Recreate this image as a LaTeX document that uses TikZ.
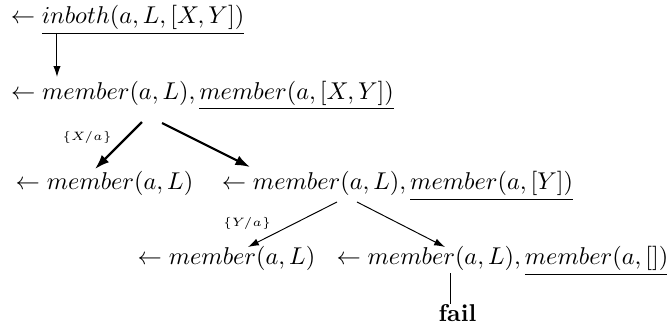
\documentclass[tikz,border=0pt]{standalone}
\usepackage{amsmath}
\usetikzlibrary{arrows.meta}
\newcommand{\sel}[1]{\underline{#1}}

\begin{document}
\begin{tikzpicture}[
  x=1cm,
  y=1cm,
  every node/.style={font=\normalsize},
  goal/.style={anchor=base, inner sep=0pt},
  derive/.style={line width=0.4pt, -{Latex[length=4.5pt, width=3pt]}},
  bigderive/.style={line width=0.9pt, -{Latex[length=6pt, width=4.2pt]}},
  subst/.style={font=\tiny, inner sep=0pt},
  failline/.style={line width=0.4pt}
]
  \useasboundingbox (0,0) rectangle (9.645,-4.757);

  % ---- goals, row by row ----
  \node[goal] (g1)  at (1.844,-0.347) {$\leftarrow \sel{inboth(a,L,[X,Y])}$};
  \node[goal] (g2)  at (2.928,-1.432) {$\leftarrow member(a,L), \sel{member(a,[X,Y])}$};
  \node[goal] (g3a) at (1.511,-2.747) {$\leftarrow member(a,L)$};
  \node[goal] (g3b) at (5.748,-2.747) {$\leftarrow member(a,L), \sel{member(a,[Y])}$};
  \node[goal] (g4a) at (3.275,-3.832) {$\leftarrow member(a,L)$};
  \node[goal] (g4b) at (7.266,-3.832) {$\leftarrow member(a,L), \sel{member(a,[])}$};
  \node[goal] (fail) at (6.615,-4.656) {\textbf{fail}};

  % ---- end points of the derivation steps ----
  \coordinate (s1) at (0.824,-0.477);  \coordinate (e1) at (0.824,-1.113);
  \coordinate (s2) at (2.053,-1.764);  \coordinate (e2) at (1.374,-2.444);
  \coordinate (s3) at (2.343,-1.779);  \coordinate (e3) at (3.615,-2.415);
  \coordinate (s4) at (4.873,-2.921);  \coordinate (e4) at (3.586,-3.572);
  \coordinate (s5) at (5.162,-2.921);  \coordinate (e5) at (6.435,-3.572);
  \coordinate (s6) at (6.507,-3.948);

  % ---- steps ----
  \draw[derive]    (s1) -- (e1);
  \draw[bigderive] (s2) -- (e2);
  \draw[bigderive] (s3) -- (e3);
  \draw[derive]    (s4) -- (e4);
  \draw[derive]    (s5) -- (e5);
  \draw[failline]  (s6) -- (s6 |- fail.north);

  % ---- substitutions ----
  \node[subst] (u1) at (1.258,-1.995) {$\{X/a\}$};
  \node[subst] (u2) at (3.572,-3.225) {$\{Y/a\}$};
\end{tikzpicture}
\end{document}
